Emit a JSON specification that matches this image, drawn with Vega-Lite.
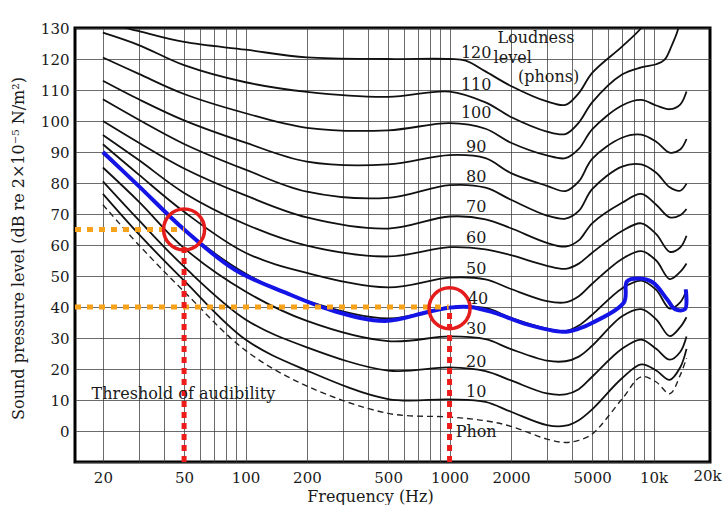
{
 "$schema": "https://vega.github.io/schema/vega-lite/v6.json",
 "width": 635, "height": 434,
 "autosize": {"type": "none"},
 "padding": {"left": 75, "top": 28, "right": 13, "bottom": 43},
 "background": "#ffffff",
 "config": {
  "view": {"stroke": "#000000", "strokeWidth": 3},
  "axis": {"labelFont": "DejaVu Serif", "labelFontSize": 15, "labelColor": "#1a1a1a", "titleFont": "DejaVu Serif", "titleFontSize": 16, "titleFontWeight": "normal", "titleColor": "#1a1a1a", "ticks": false, "domain": false, "grid": true, "gridWidth": 1, "gridOpacity": 0.75, "labelOverlap": false, "labelFlush": false, "labelBound": false}
 },
 "datasets": {
  "curves": [
   {"c":"10","f":20,"db":76.5},{"c":"10","f":30,"db":63.5},{"c":"10","f":50,"db":48.5},{"c":"10","f":100,"db":29.5},{"c":"10","f":200,"db":19.5},{"c":"10","f":500,"db":10.3},{"c":"10","f":1000,"db":10.2},{"c":"10","f":1500,"db":9.4},{"c":"10","f":2000,"db":6.2},{"c":"10","f":3000,"db":1.9},{"c":"10","f":3700,"db":1.7},{"c":"10","f":4300,"db":3.5},{"c":"10","f":5000,"db":7},{"c":"10","f":7000,"db":17},{"c":"10","f":8700,"db":21.5},{"c":"10","f":10300,"db":19.5},{"c":"10","f":12000,"db":16.5},{"c":"10","f":13500,"db":20.5},{"c":"10","f":14500,"db":26.5},
   {"c":"20","f":20,"db":80.5},{"c":"20","f":30,"db":68},{"c":"20","f":50,"db":53},{"c":"20","f":100,"db":36},{"c":"20","f":200,"db":27},{"c":"20","f":500,"db":19.5},{"c":"20","f":1000,"db":20.5},{"c":"20","f":1500,"db":19.3},{"c":"20","f":2000,"db":16.3},{"c":"20","f":3000,"db":12.1},{"c":"20","f":3700,"db":11.8},{"c":"20","f":4300,"db":13.5},{"c":"20","f":5000,"db":17.5},{"c":"20","f":7000,"db":26.5},{"c":"20","f":8700,"db":29.5},{"c":"20","f":10300,"db":26.5},{"c":"20","f":12000,"db":23},{"c":"20","f":13500,"db":25.5},{"c":"20","f":14500,"db":30.5},
   {"c":"30","f":20,"db":85},{"c":"30","f":30,"db":74},{"c":"30","f":50,"db":59},{"c":"30","f":100,"db":45},{"c":"30","f":200,"db":35.5},{"c":"30","f":500,"db":29},{"c":"30","f":1000,"db":30.5},{"c":"30","f":1500,"db":29.6},{"c":"30","f":2000,"db":26.4},{"c":"30","f":3000,"db":22.7},{"c":"30","f":3700,"db":22.5},{"c":"30","f":4300,"db":24},{"c":"30","f":5000,"db":27.5},{"c":"30","f":7000,"db":37},{"c":"30","f":8700,"db":39.3},{"c":"30","f":10300,"db":36},{"c":"30","f":12000,"db":30.6},{"c":"30","f":13500,"db":33.5},{"c":"30","f":14500,"db":36.7},
   {"c":"40","f":20,"db":89.5},{"c":"40","f":30,"db":79},{"c":"40","f":50,"db":65},{"c":"40","f":100,"db":50.8},{"c":"40","f":200,"db":42},{"c":"40","f":500,"db":36.3},{"c":"40","f":1000,"db":40},{"c":"40","f":1500,"db":39.7},{"c":"40","f":2000,"db":36.5},{"c":"40","f":3000,"db":33},{"c":"40","f":3700,"db":32.2},{"c":"40","f":4300,"db":34},{"c":"40","f":5000,"db":37.5},{"c":"40","f":7000,"db":46},{"c":"40","f":8700,"db":48.5},{"c":"40","f":10300,"db":45.5},{"c":"40","f":12000,"db":39.5},{"c":"40","f":13500,"db":41.5},{"c":"40","f":14500,"db":45.5},
   {"c":"50","f":20,"db":92.5},{"c":"50","f":30,"db":82.7},{"c":"50","f":50,"db":70.7},{"c":"50","f":100,"db":57.5},{"c":"50","f":200,"db":51},{"c":"50","f":500,"db":46.3},{"c":"50","f":1000,"db":49.5},{"c":"50","f":1500,"db":48.9},{"c":"50","f":2000,"db":45.8},{"c":"50","f":3000,"db":41.9},{"c":"50","f":3700,"db":41.5},{"c":"50","f":4300,"db":43.5},{"c":"50","f":5000,"db":47.5},{"c":"50","f":7000,"db":55.5},{"c":"50","f":8700,"db":58},{"c":"50","f":10300,"db":55},{"c":"50","f":12000,"db":49},{"c":"50","f":13500,"db":51.3},{"c":"50","f":14500,"db":54},
   {"c":"60","f":20,"db":95.5},{"c":"60","f":30,"db":87.4},{"c":"60","f":50,"db":76.8},{"c":"60","f":100,"db":66.7},{"c":"60","f":200,"db":59.8},{"c":"60","f":500,"db":56.3},{"c":"60","f":1000,"db":59.3},{"c":"60","f":1500,"db":58.6},{"c":"60","f":2000,"db":56.7},{"c":"60","f":3000,"db":53.3},{"c":"60","f":3700,"db":52.3},{"c":"60","f":4300,"db":54},{"c":"60","f":5000,"db":57.5},{"c":"60","f":7000,"db":64.5},{"c":"60","f":8700,"db":67},{"c":"60","f":10300,"db":63.5},{"c":"60","f":12000,"db":57.8},{"c":"60","f":13500,"db":59.2},{"c":"60","f":14500,"db":63},
   {"c":"70","f":20,"db":100},{"c":"70","f":30,"db":93},{"c":"70","f":50,"db":84.7},{"c":"70","f":100,"db":76},{"c":"70","f":200,"db":68.9},{"c":"70","f":500,"db":65.3},{"c":"70","f":1000,"db":69.2},{"c":"70","f":1500,"db":68.3},{"c":"70","f":2000,"db":65.4},{"c":"70","f":3000,"db":60.7},{"c":"70","f":3700,"db":59.5},{"c":"70","f":4300,"db":61.5},{"c":"70","f":5000,"db":67},{"c":"70","f":7000,"db":73.6},{"c":"70","f":8700,"db":76.5},{"c":"70","f":10300,"db":73},{"c":"70","f":12000,"db":68.9},{"c":"70","f":13500,"db":69.6},{"c":"70","f":14500,"db":71.6},
   {"c":"80","f":20,"db":107},{"c":"80","f":30,"db":100.4},{"c":"80","f":50,"db":92.6},{"c":"80","f":100,"db":84.3},{"c":"80","f":200,"db":77.2},{"c":"80","f":500,"db":75.2},{"c":"80","f":1000,"db":79.3},{"c":"80","f":1500,"db":78.5},{"c":"80","f":2000,"db":74.6},{"c":"80","f":3000,"db":69.5},{"c":"80","f":3700,"db":68.5},{"c":"80","f":4300,"db":71},{"c":"80","f":5000,"db":78},{"c":"80","f":7000,"db":85.3},{"c":"80","f":8700,"db":86},{"c":"80","f":10300,"db":83.3},{"c":"80","f":12000,"db":78.6},{"c":"80","f":13500,"db":77.5},{"c":"80","f":14500,"db":79.8},
   {"c":"90","f":20,"db":113},{"c":"90","f":30,"db":107},{"c":"90","f":50,"db":100.2},{"c":"90","f":100,"db":93},{"c":"90","f":200,"db":86.9},{"c":"90","f":500,"db":86},{"c":"90","f":1000,"db":89},{"c":"90","f":1500,"db":88},{"c":"90","f":2000,"db":83.2},{"c":"90","f":3000,"db":79.1},{"c":"90","f":3700,"db":77.4},{"c":"90","f":4300,"db":80.5},{"c":"90","f":5000,"db":87.8},{"c":"90","f":7000,"db":94.6},{"c":"90","f":8700,"db":95.6},{"c":"90","f":10300,"db":93.3},{"c":"90","f":12000,"db":89.8},{"c":"90","f":13500,"db":90.8},{"c":"90","f":14500,"db":94.2},
   {"c":"100","f":20,"db":120.5},{"c":"100","f":30,"db":115.2},{"c":"100","f":50,"db":108.7},{"c":"100","f":100,"db":102.5},{"c":"100","f":200,"db":97.8},{"c":"100","f":500,"db":97},{"c":"100","f":1000,"db":99.3},{"c":"100","f":1500,"db":97.5},{"c":"100","f":2000,"db":93},{"c":"100","f":3000,"db":88.9},{"c":"100","f":3700,"db":88},{"c":"100","f":4300,"db":91},{"c":"100","f":5000,"db":97.3},{"c":"100","f":7000,"db":105},{"c":"100","f":8700,"db":106.8},{"c":"100","f":10300,"db":105},{"c":"100","f":12000,"db":103.8},{"c":"100","f":13500,"db":105.3},{"c":"100","f":14500,"db":109.5},
   {"c":"110","f":20,"db":128.5},{"c":"110","f":30,"db":124.5},{"c":"110","f":50,"db":118},{"c":"110","f":100,"db":112.5},{"c":"110","f":200,"db":109.4},{"c":"110","f":500,"db":107.8},{"c":"110","f":1000,"db":109.5},{"c":"110","f":1500,"db":106},{"c":"110","f":2000,"db":101.3},{"c":"110","f":3000,"db":96.6},{"c":"110","f":3700,"db":95.8},{"c":"110","f":4300,"db":99.5},{"c":"110","f":5000,"db":106},{"c":"110","f":7000,"db":115},{"c":"110","f":8700,"db":117.3},{"c":"110","f":10300,"db":118.3},{"c":"110","f":11300,"db":119.7},{"c":"110","f":12300,"db":124.5},{"c":"110","f":13100,"db":129},{"c":"110","f":13600,"db":134},
   {"c":"120","f":20,"db":134},{"c":"120","f":26,"db":130},{"c":"120","f":30,"db":129},{"c":"120","f":50,"db":125.5},{"c":"120","f":100,"db":123},{"c":"120","f":200,"db":120.5},{"c":"120","f":500,"db":120},{"c":"120","f":1000,"db":120},{"c":"120","f":1200,"db":119.5},{"c":"120","f":1500,"db":116},{"c":"120","f":2000,"db":111.3},{"c":"120","f":3000,"db":106.3},{"c":"120","f":3700,"db":105.2},{"c":"120","f":4300,"db":109},{"c":"120","f":5000,"db":115.5},{"c":"120","f":7000,"db":124},{"c":"120","f":8700,"db":130},{"c":"120","f":9500,"db":134}
  ],
  "thr": [
   {"f":20,"db":73},{"f":30,"db":60},{"f":50,"db":45},{"f":100,"db":26},{"f":200,"db":14.5},{"f":500,"db":5.7},{"f":1000,"db":4.5},{"f":1500,"db":3.3},{"f":2000,"db":1.5},{"f":3000,"db":-2.6},{"f":3700,"db":-3.7},{"f":4300,"db":-3},{"f":5000,"db":-1},{"f":7000,"db":10.3},{"f":8700,"db":17.5},{"f":10300,"db":15.8},{"f":12000,"db":12},{"f":13500,"db":18},{"f":14500,"db":23.5}
  ],
  "blue": [
   {"f":20,"db":90},{"f":30,"db":79},{"f":50,"db":65},{"f":88.7,"db":52},{"f":156,"db":44.7},{"f":274,"db":38.6},{"f":482,"db":35.5},{"f":775,"db":38.3},{"f":1004,"db":39.8},{"f":1259,"db":40},{"f":1632,"db":38.3},{"f":2396,"db":34.4},{"f":3596,"db":32},{"f":4300,"db":33},{"f":5048,"db":35},{"f":7160,"db":41.5},{"f":7408,"db":48.3},{"f":8576,"db":49.2},{"f":9932,"db":47.9},{"f":11638,"db":42.5},{"f":12736,"db":39.3},{"f":14256,"db":39.3},{"f":14370,"db":45.7}
  ],
  "orange": [
   {"g":"a","f":14.6,"db":65},{"g":"a","f":50,"db":65},
   {"g":"b","f":14.6,"db":40},{"g":"b","f":990,"db":40}
  ],
  "red": [
   {"g":"a","f":50,"db":-10},{"g":"a","f":50,"db":61},
   {"g":"b","f":1000,"db":-10},{"g":"b","f":1000,"db":39.5}
  ],
  "circles": [
   {"f":50,"db":65},{"f":1000,"db":39.6}
  ],
  "ticklabel": [
   {"t":"20k","f":18400,"db":-14.6}
  ],
  "labels": [
   {"t":"120","f":1350,"db":122},{"t":"110","f":1350,"db":111.6},{"t":"100","f":1350,"db":102.6},{"t":"90","f":1350,"db":91.7},{"t":"80","f":1350,"db":82},{"t":"70","f":1350,"db":72.4},{"t":"60","f":1350,"db":62.4},{"t":"50","f":1350,"db":52.1},{"t":"40","f":1380,"db":42.5},{"t":"30","f":1350,"db":32.8},{"t":"20","f":1350,"db":22.2},{"t":"10","f":1350,"db":12.5},
   {"t":"Phon","f":1350,"db":-0.3},
   {"t":"Loudness","f":2650,"db":126.8},{"t":"level","f":2040,"db":120.3},{"t":"(phons)","f":3060,"db":114.2},
   {"t":"Threshold of audibility","f":49.6,"db":11.9}
  ]
 },
 "encoding": {
  "x": {"field": "f", "type": "quantitative",
   "scale": {"type": "log", "domain": [14.6, 18900], "nice": false},
   "axis": {"values": [20,30,40,50,60,70,80,90,100,200,300,400,500,600,700,800,900,1000,2000,3000,4000,5000,6000,7000,8000,9000,10000],
    "labelExpr": "indexof([20,50,100,200,500,1000,2000,5000], datum.value) >= 0 ? datum.label : (datum.value == 10000 ? '10k' : '')",
    "format": "d",
    "labelPadding": 8,
    "gridColor": "#3a3a3a",
    "title": "Frequency (Hz)", "titleX": 295, "titleY": 34, "titleAlign": "center", "titleBaseline": "middle"}},
  "y": {"field": "db", "type": "quantitative",
   "scale": {"domain": [-10, 130], "nice": false, "zero": false},
   "axis": {"values": [-10,0,10,20,30,40,50,60,70,80,90,100,110,120,130],
    "labelExpr": "datum.value < 0 ? '' : datum.label",
    "labelPadding": 6, "gridColor": "#3a3a3a",
    "title": "Sound pressure level (dB re 2×10⁻⁵ N/m²)", "titleX": -57, "titleY": 220, "titleAngle": -90, "titleAlign": "center", "titleBaseline": "middle"}}
 },
 "layer": [
  {"data": {"name": "curves"}, "mark": {"type": "line", "interpolate": "catmull-rom", "color": "#111111", "strokeWidth": 1.8, "clip": true}, "encoding": {"detail": {"field": "c"}}},
  {"data": {"name": "thr"}, "mark": {"type": "line", "interpolate": "catmull-rom", "color": "#222222", "strokeWidth": 1.4, "strokeDash": [6, 4]}, "encoding": {}},
  {"data": {"name": "blue"}, "mark": {"type": "line", "interpolate": "catmull-rom", "color": "#1414e6", "strokeWidth": 4}, "encoding": {}},
  {"data": {"name": "orange"}, "mark": {"type": "line", "color": "#f7a21b", "strokeWidth": 5, "strokeDash": [6, 6]}, "encoding": {"detail": {"field": "g"}}},
  {"data": {"name": "red"}, "mark": {"type": "line", "color": "#ee1b1b", "strokeWidth": 5, "strokeDash": [6, 5]}, "encoding": {"detail": {"field": "g"}, "order": {"field": "db"}}},
  {"data": {"name": "circles"}, "mark": {"type": "point", "shape": "circle", "filled": false, "stroke": "#e51c1c", "strokeWidth": 3.5, "size": 1681, "opacity": 1}},
  {"data": {"name": "labels"}, "mark": {"type": "text", "font": "DejaVu Serif", "fontSize": 16, "color": "#1a1a1a", "align": "center", "baseline": "middle"}, "encoding": {"text": {"field": "t"}}},
  {"data": {"name": "ticklabel"}, "mark": {"type": "text", "font": "DejaVu Serif", "fontSize": 15, "color": "#1a1a1a", "align": "center", "baseline": "middle", "clip": false}, "encoding": {"text": {"field": "t"}}}
 ]
}
